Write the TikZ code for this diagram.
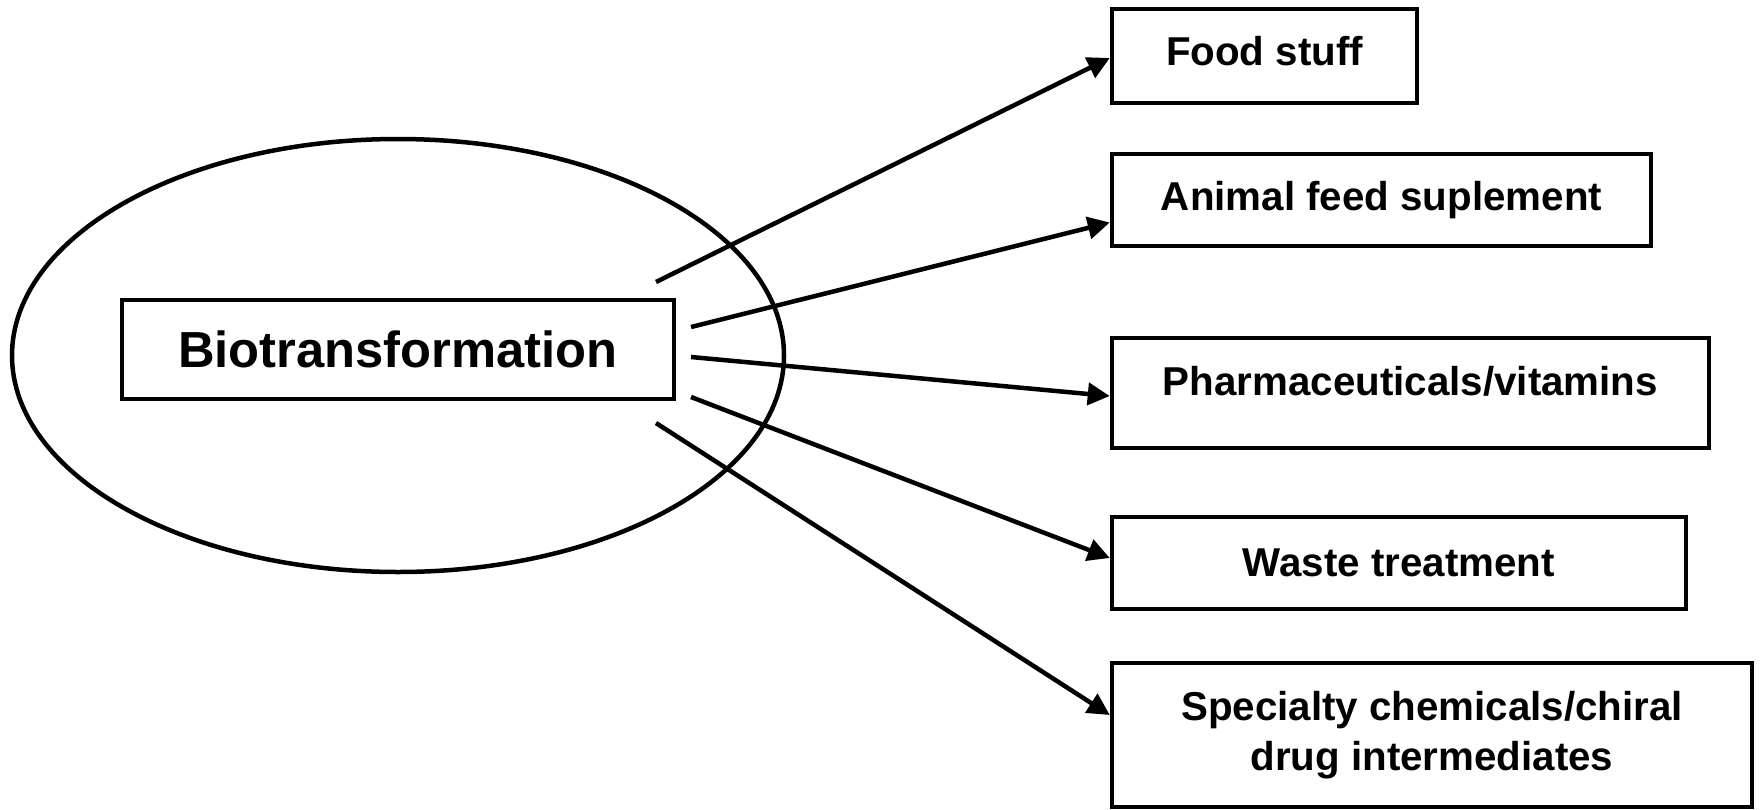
\documentclass[tikz,border=0pt]{standalone}
\usepackage{fontspec}
\setmainfont{Liberation Sans}
\usetikzlibrary{arrows.meta}
\begin{document}
\begin{tikzpicture}[x=1pt,y=-1pt,
  box/.style={draw,line width=4.5pt,rectangle,inner sep=0pt,align=center,font=\fontsize{40.3}{50}\selectfont\bfseries},
  arr/.style={line width=4.5pt,-{Triangle[length=22pt,width=22pt]}}]
\useasboundingbox (0,0) rectangle (1762,809);
\draw[line width=4.5pt] (398,355.5) ellipse [x radius=386, y radius=216.5];
\node[box,minimum width=552pt,minimum height=99pt,font=\fontsize{50.7}{55}\selectfont\bfseries] (bio) at (398,349.5) {Biotransformation};
\node[box,minimum width=305pt,minimum height=94pt] (food) at (1264.5,56) {\raisebox{10pt}{Food stuff}};
\node[box,minimum width=539pt,minimum height=92pt] (animal) at (1381.5,200) {\raisebox{6pt}{Animal feed suplement}};
\node[box,minimum width=597pt,minimum height=110pt] (pharma) at (1410.5,393) {\raisebox{24pt}{Pharmaceuticals/vitamins}};
\node[box,minimum width=574pt,minimum height=92pt] (waste) at (1399,563) {Waste treatment};
\node[box,minimum width=640pt,minimum height=144pt] (spec) at (1432,735) {\raisebox{4pt}{\begin{tabular}{@{}c@{}}Specialty chemicals/chiral\\drug intermediates\end{tabular}}};
\coordinate (s1) at (656,282);
\coordinate (s2) at (691,327);
\coordinate (s3) at (691,357);
\coordinate (s4) at (691,397);
\coordinate (s5) at (656,423);
\draw[arr] (s1) -- ([yshift=-2pt]food.west);
\draw[arr] (s2) -- ([yshift=-22.5pt]animal.west);
\draw[arr] (s3) -- ([yshift=-3pt]pharma.west);
\draw[arr] (s4) -- ([yshift=5pt]waste.west);
\draw[arr] (s5) -- ([yshift=20pt]spec.west);
\end{tikzpicture}
\end{document}
